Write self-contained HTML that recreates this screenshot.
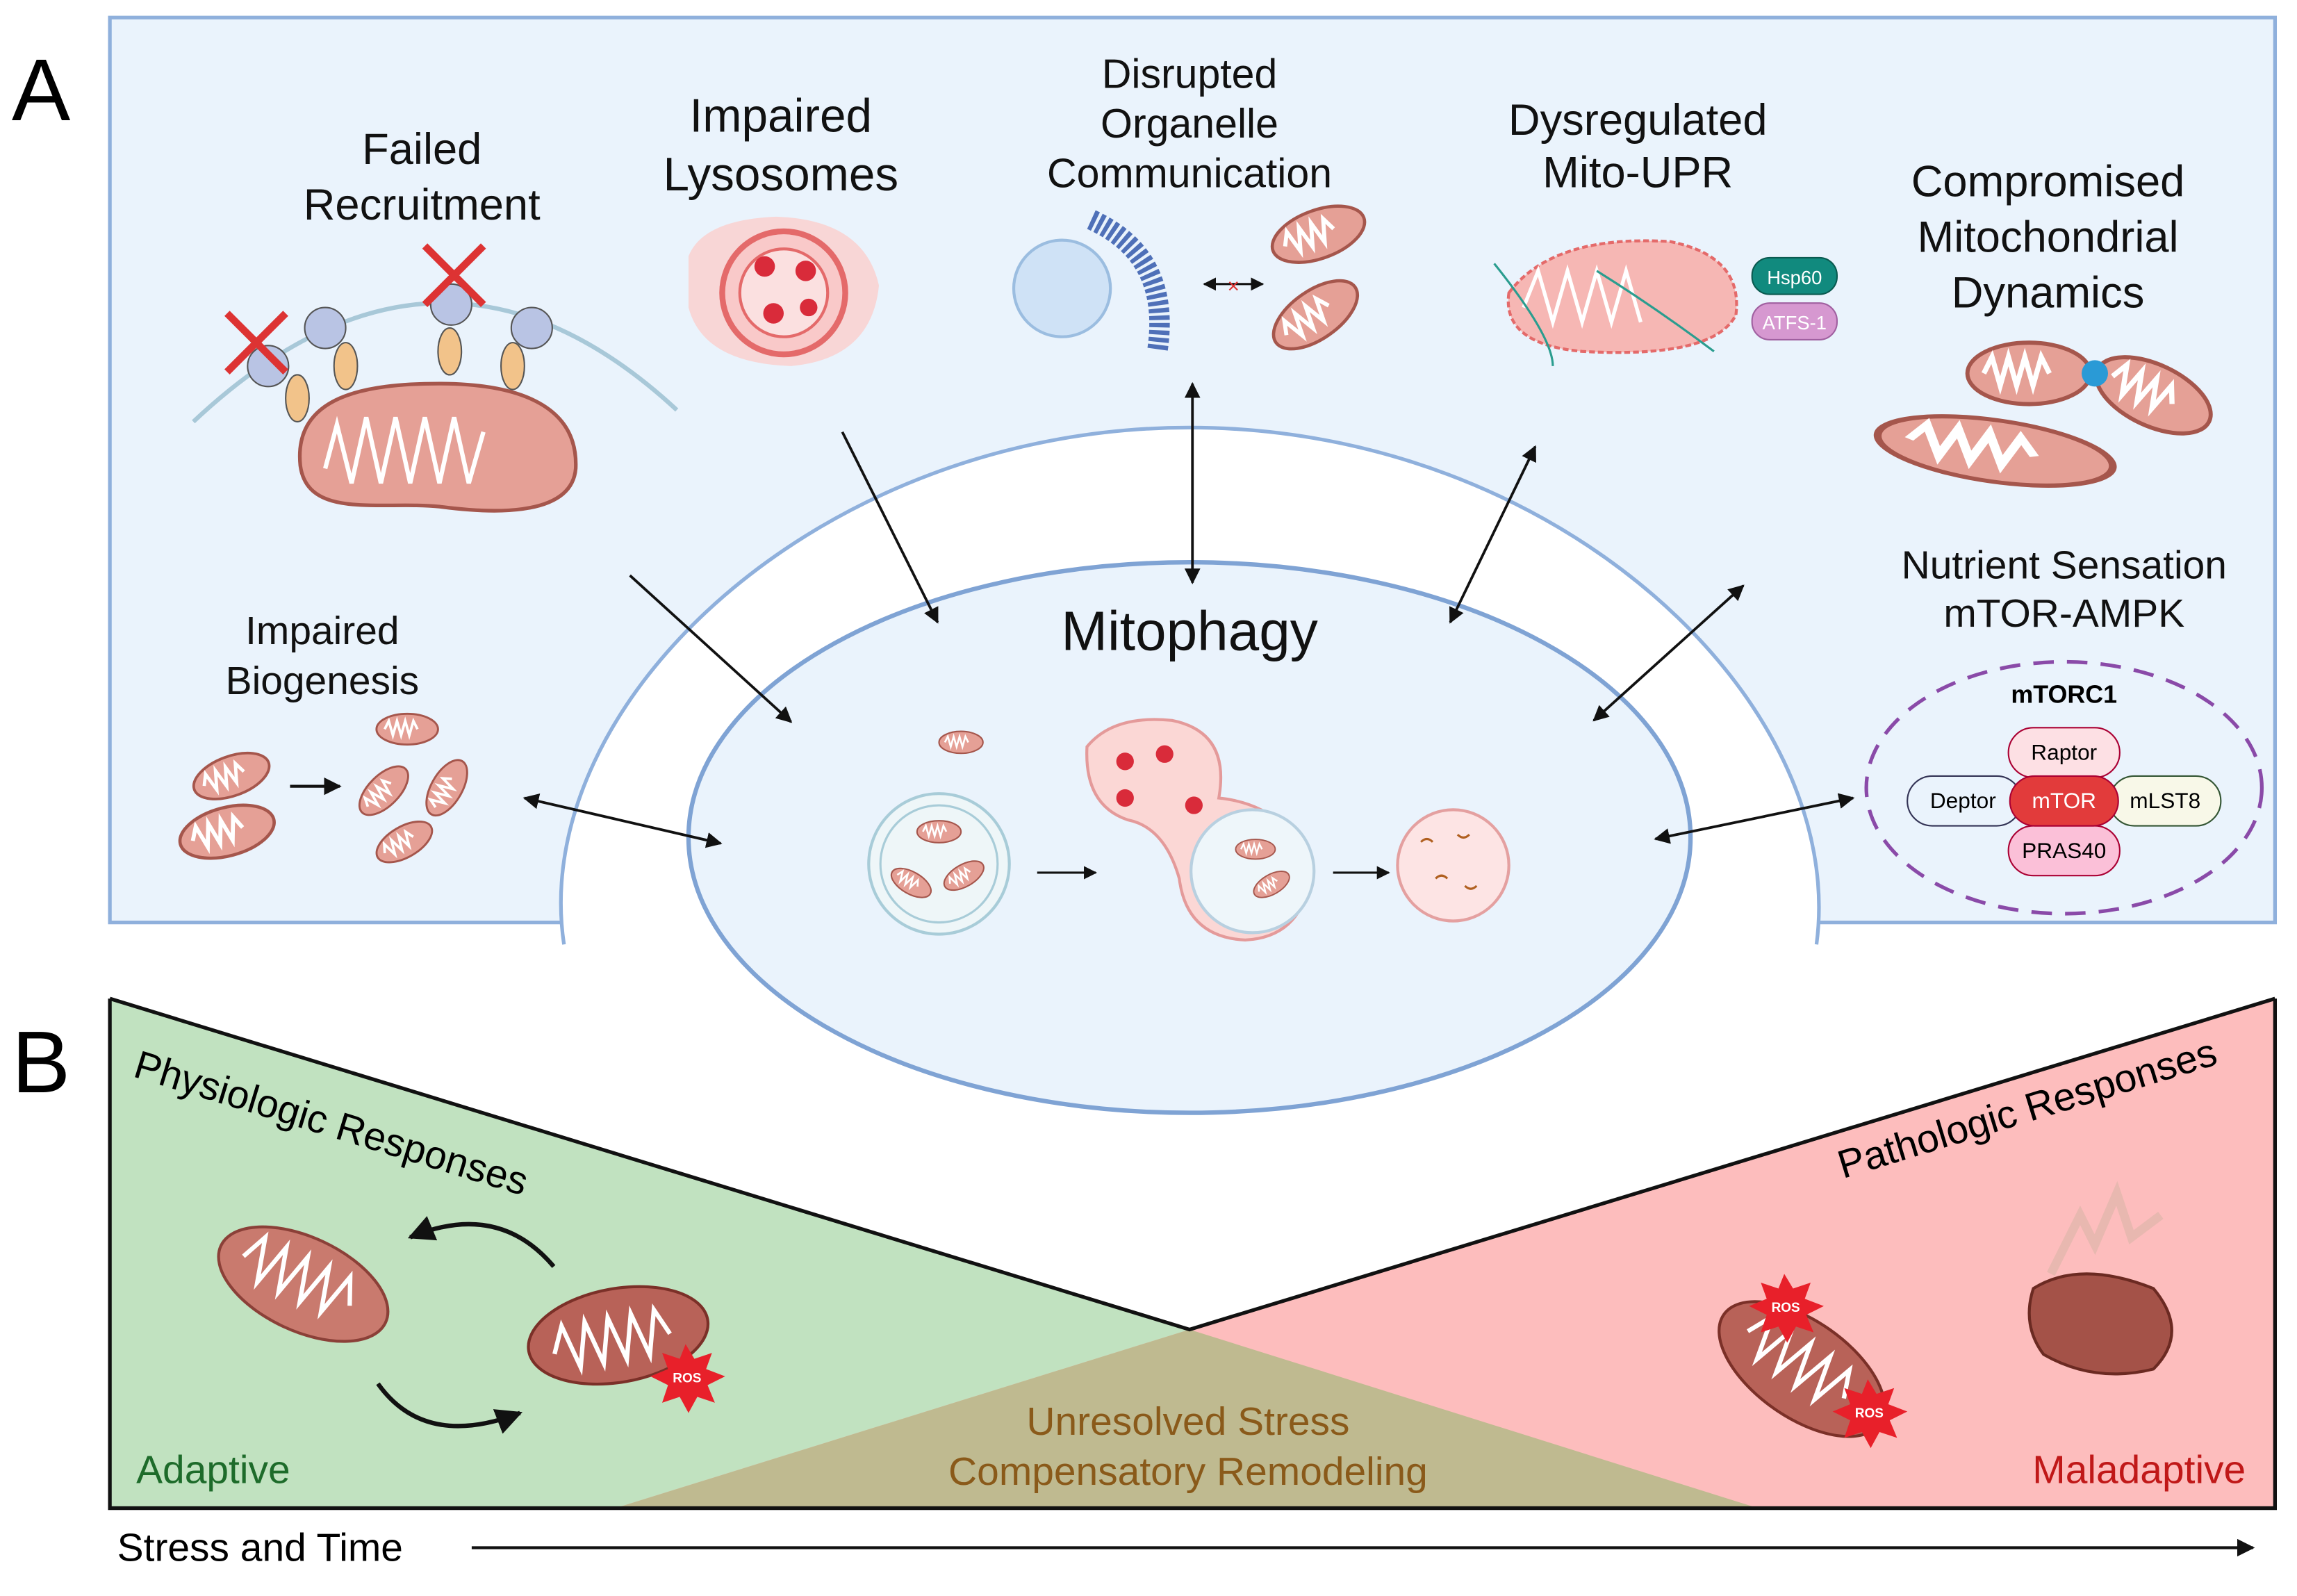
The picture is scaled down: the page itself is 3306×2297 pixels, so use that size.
<!DOCTYPE html>
<html><head><meta charset="utf-8"><style>html,body{margin:0;padding:0;background:#fff}svg{display:block}text{font-family:"Liberation Sans",sans-serif}</style></head><body>
<svg width="3306" height="2297" viewBox="0 0 1568 1090" preserveAspectRatio="none" xmlns="http://www.w3.org/2000/svg">
<defs>
<marker id="ah" viewBox="0 0 10 10" refX="9" refY="5" markerWidth="6" markerHeight="6" orient="auto-start-reverse"><path d="M0,0L10,5L0,10z" fill="#111"/></marker>
<g id="mito"><ellipse cx="0" cy="0" rx="30" ry="15" fill="#e5a096" stroke="#a5564c" stroke-width="2"/><path d="M-22,0 l4,-8 l4,14 l4,-14 l4,14 l4,-14 l4,14 l4,-14 l4,8" fill="none" stroke="#fff" stroke-width="2.5"/></g>
</defs>
<rect x="75" y="12" width="1478" height="618" fill="#eaf3fc" stroke="#8fb0dc" stroke-width="2.5"/>
<path d="M385,645 C360,480 560,292 812,292 C1064,292 1262,480 1240,645 Z" fill="#fff"/>
<path d="M385,645 C360,480 560,292 812,292 C1064,292 1262,480 1240,645" fill="none" stroke="#8fb0dc" stroke-width="2.5"/>
<polygon points="75,682 812,908 1200,1030 75,1030" fill="#c1e2c0"/>
<polygon points="1553,682 812,908 420,1030 1553,1030" fill="#fdbdbd"/>
<polygon points="812,908 1200,1030 420,1030" fill="#bfba90"/>
<polyline points="75,682 812,908 1553,682" fill="none" stroke="#111" stroke-width="2.5"/>
<polyline points="75,682 75,1030 1553,1030 1553,682" fill="none" stroke="#111" stroke-width="2.5"/>
<ellipse cx="812" cy="572" rx="342" ry="188" fill="#eaf3fc" stroke="#7fa3d4" stroke-width="3"/>
<text x="8" y="82" font-size="60">A</text>
<text x="8" y="746" font-size="60">B</text>
<g font-size="30" text-anchor="middle" fill="#111">
<text x="288" y="112">Failed</text><text x="288" y="150">Recruitment</text>
<text x="533" y="90" font-size="32">Impaired</text><text x="533" y="130" font-size="32">Lysosomes</text>
<text x="812" y="60" font-size="28">Disrupted</text><text x="812" y="94" font-size="28">Organelle</text><text x="812" y="128" font-size="28">Communication</text>
<text x="1118" y="92">Dysregulated</text><text x="1118" y="128">Mito-UPR</text>
<text x="1398" y="134">Compromised</text><text x="1398" y="172">Mitochondrial</text><text x="1398" y="210">Dynamics</text>
<text x="1409" y="395" font-size="27">Nutrient Sensation</text><text x="1409" y="428" font-size="27">mTOR-AMPK</text>
<text x="220" y="440" font-size="27">Impaired</text><text x="220" y="474" font-size="27">Biogenesis</text>
<text x="812" y="444" font-size="38">Mitophagy</text>
</g>
<path d="M132,288 Q300,130 462,280" fill="none" stroke="#a8c8d8" stroke-width="3"/>
<path d="M205,318 C200,270 250,262 300,262 C350,262 395,275 393,320 C390,355 330,350 300,346 C260,342 210,355 205,318Z" fill="#e5a096" stroke="#a5564c" stroke-width="2.5"/>
<path d="M222,320 l8,-30 l10,40 l10,-45 l10,45 l10,-45 l10,45 l10,-45 l10,45 l10,-45 l10,45 l10,-35" fill="none" stroke="#fff" stroke-width="3"/>
<g fill="#b9c4e4" stroke="#555" stroke-width="1"><circle cx="183" cy="250" r="14"/><circle cx="222" cy="224" r="14"/><circle cx="308" cy="208" r="14"/><circle cx="363" cy="224" r="14"/></g>
<g fill="#f2c38a" stroke="#555" stroke-width="1"><ellipse cx="203" cy="272" rx="8" ry="16"/><ellipse cx="236" cy="250" rx="8" ry="16"/><ellipse cx="307" cy="240" rx="8" ry="16"/><ellipse cx="350" cy="250" rx="8" ry="16"/></g>
<g stroke="#d33" stroke-width="5"><line x1="155" y1="214" x2="195" y2="254"/><line x1="195" y1="214" x2="155" y2="254"/><line x1="290" y1="168" x2="330" y2="208"/><line x1="330" y1="168" x2="290" y2="208"/></g>
<path d="M470,175 Q480,150 530,148 Q590,150 600,195 Q595,245 540,250 Q480,248 470,210Z" fill="#f8d6d6"/>
<circle cx="535" cy="200" r="42" fill="#f9c9c9" stroke="#e46a6a" stroke-width="4"/>
<circle cx="535" cy="200" r="30" fill="#fbe0e0" stroke="#e46a6a" stroke-width="2"/>
<g fill="#d92b3a"><circle cx="522" cy="182" r="7"/><circle cx="550" cy="185" r="7"/><circle cx="528" cy="214" r="7"/><circle cx="552" cy="210" r="6"/></g>
<circle cx="725" cy="197" r="33" fill="#cfe2f6" stroke="#9bbde0" stroke-width="2"/>
<path d="M745,150 Q800,175 790,240" fill="none" stroke="#4f70b8" stroke-width="14" stroke-dasharray="3 2"/>
<use href="#mito" transform="translate(900,160) rotate(-20) scale(1.1)"/>
<use href="#mito" transform="translate(898,215) rotate(-35) scale(1.1)"/>
<line x1="822" y1="194" x2="862" y2="194" stroke="#111" stroke-width="1.5" marker-start="url(#ah)" marker-end="url(#ah)"/>
<text x="842" y="200" fill="#d33" font-size="14" text-anchor="middle">×</text>
<path d="M1030,200 Q1060,160 1140,165 Q1190,175 1185,215 Q1170,245 1080,240 Q1025,235 1030,200Z" fill="#f6b7b4" stroke="#e46a6a" stroke-width="2" stroke-dasharray="4 2"/>
<path d="M1040,210 l10,-25 l10,35 l10,-35 l10,35 l10,-35 l10,35 l10,-35 l10,35" fill="none" stroke="#fff" stroke-width="2.5"/>
<path d="M1020,180 Q1060,230 1060,250 M1090,185 Q1130,210 1170,240" stroke="#2a9d8f" stroke-width="1.5" fill="none"/>
<rect x="1196" y="176" width="58" height="25" rx="12" fill="#118a7e" stroke="#0a5a50"/><text x="1225" y="194" font-size="13" fill="#fff" text-anchor="middle">Hsp60</text>
<rect x="1196" y="207" width="58" height="25" rx="12" fill="#d698d0" stroke="#a060a0"/><text x="1225" y="225" font-size="13" fill="#fff" text-anchor="middle">ATFS-1</text>
<use href="#mito" transform="translate(1385,255) scale(1.4)"/>
<use href="#mito" transform="translate(1470,270) rotate(25) scale(1.4)"/>
<use href="#mito" transform="translate(1362,308) rotate(8) scale(2.7,1.4)"/>
<circle cx="1430" cy="255" r="9" fill="#2a9ad6"/>
<use href="#mito" transform="translate(158,530) rotate(-20) scale(0.9)"/>
<use href="#mito" transform="translate(155,568) rotate(-15) scale(1.1)"/>
<use href="#mito" transform="translate(278,498) scale(0.7)"/>
<use href="#mito" transform="translate(262,540) rotate(-45) scale(0.7)"/>
<use href="#mito" transform="translate(305,538) rotate(-60) scale(0.7)"/>
<use href="#mito" transform="translate(276,575) rotate(-30) scale(0.7)"/>
<line x1="198" y1="537" x2="232" y2="537" stroke="#111" stroke-width="2" marker-end="url(#ah)"/>
<ellipse cx="1409" cy="538" rx="135" ry="86" fill="none" stroke="#8a4aa8" stroke-width="2.5" stroke-dasharray="14 9"/>
<text x="1409" y="480" font-size="17" font-weight="bold" text-anchor="middle">mTORC1</text>
<rect x="1302" y="530" width="78" height="34" rx="17" fill="#eaf3fc" stroke="#335"/><text x="1340" y="552" font-size="15" text-anchor="middle">Deptor</text>
<rect x="1440" y="530" width="76" height="34" rx="17" fill="#f8f8e8" stroke="#353"/><text x="1478" y="552" font-size="15" text-anchor="middle">mLST8</text>
<rect x="1371" y="497" width="76" height="34" rx="17" fill="#fde0e4" stroke="#a03"/><text x="1409" y="519" font-size="15" text-anchor="middle">Raptor</text>
<rect x="1371" y="564" width="76" height="34" rx="17" fill="#fbc0d8" stroke="#a03"/><text x="1409" y="586" font-size="15" text-anchor="middle">PRAS40</text>
<rect x="1372" y="530" width="74" height="34" rx="17" fill="#e23b3b" stroke="#a03"/><text x="1409" y="552" font-size="15" fill="#fff" text-anchor="middle">mTOR</text>
<use href="#mito" transform="translate(656,507) scale(0.5)"/>
<circle cx="641" cy="590" r="48" fill="#eef6f8" stroke="#a8ccd8" stroke-width="2"/><circle cx="641" cy="590" r="40" fill="none" stroke="#a8ccd8" stroke-width="1.5"/>
<use href="#mito" transform="translate(641,568) scale(0.5)"/><use href="#mito" transform="translate(622,603) rotate(30) scale(0.5)"/><use href="#mito" transform="translate(658,598) rotate(-30) scale(0.5)"/>
<line x1="708" y1="596" x2="748" y2="596" stroke="#111" stroke-width="1.5" marker-end="url(#ah)"/>
<path d="M742,510 Q760,488 800,492 Q840,500 832,545 Q880,550 895,595 Q890,640 850,642 Q810,640 805,600 Q795,565 770,560 Q740,550 742,510Z" fill="#fbd7d5" stroke="#e49a9a" stroke-width="2"/>
<circle cx="855" cy="595" r="42" fill="#eef6fa" stroke="#b8d0e0" stroke-width="2"/>
<g fill="#d92b3a"><circle cx="768" cy="520" r="6"/><circle cx="795" cy="515" r="6"/><circle cx="768" cy="545" r="6"/><circle cx="815" cy="550" r="6"/></g>
<use href="#mito" transform="translate(857,580) scale(0.45)"/><use href="#mito" transform="translate(868,604) rotate(-30) scale(0.45)"/>
<line x1="910" y1="596" x2="948" y2="596" stroke="#111" stroke-width="1.5" marker-end="url(#ah)"/>
<circle cx="992" cy="591" r="38" fill="#fde4e4" stroke="#e4a0a0" stroke-width="2"/>
<g stroke="#b06020" stroke-width="1.5" fill="none"><path d="M970,575 q4,-4 8,0"/><path d="M995,570 q4,4 8,0"/><path d="M980,600 q4,-4 8,0"/><path d="M1000,605 q4,4 8,0"/></g>
<g stroke="#111" stroke-width="1.8" fill="none">
<line x1="430" y1="393" x2="540" y2="493" marker-end="url(#ah)"/>
<line x1="575" y1="295" x2="640" y2="425" marker-end="url(#ah)"/>
<line x1="814" y1="262" x2="814" y2="398" marker-start="url(#ah)" marker-end="url(#ah)"/>
<line x1="1048" y1="305" x2="990" y2="425" marker-start="url(#ah)" marker-end="url(#ah)"/>
<line x1="1190" y1="400" x2="1088" y2="492" marker-start="url(#ah)" marker-end="url(#ah)"/>
<line x1="358" y1="545" x2="492" y2="576" marker-start="url(#ah)" marker-end="url(#ah)"/>
<line x1="1130" y1="573" x2="1265" y2="545" marker-start="url(#ah)" marker-end="url(#ah)"/>
<path d="M378,865 Q340,820 280,845" marker-end="url(#ah)" stroke-width="3"/>
<path d="M258,945 Q290,990 355,965" marker-end="url(#ah)" stroke-width="3"/>
<line x1="322" y1="1057" x2="1538" y2="1057" marker-end="url(#ah)" stroke-width="2"/>
</g>
<g transform="translate(207,877) rotate(25)"><ellipse rx="62" ry="32" fill="#c97a6e" stroke="#8b4038" stroke-width="2"/><path d="M-45,0 l8,-18 l8,30 l8,-30 l8,30 l8,-30 l8,30 l8,-30 l8,30 l8,-30 l8,18" fill="none" stroke="#fff" stroke-width="3"/></g>
<g transform="translate(422,912) rotate(-10)"><ellipse rx="62" ry="32" fill="#b86258" stroke="#7b3028" stroke-width="2"/><path d="M-45,5 l8,-18 l8,30 l8,-30 l8,30 l8,-30 l8,30 l8,-30 l8,30 l8,-30 l8,18" fill="none" stroke="#fff" stroke-width="3"/></g>
<g transform="translate(1230,935) rotate(35)"><ellipse rx="65" ry="33" fill="#b86258" stroke="#7b3028" stroke-width="2"/><path d="M-45,0 l8,-18 l8,30 l8,-30 l8,30 l8,-30 l8,30 l8,-30 l8,30 l8,-30 l8,18" fill="none" stroke="#fff" stroke-width="3"/></g>
<path d="M1388,880 Q1420,860 1470,880 Q1495,910 1470,935 Q1430,945 1395,925 Q1380,905 1388,880Z" fill="#a45248" stroke="#6b2a22" stroke-width="2"/>
<path d="M1400,870 l20,-40 l10,20 l15,-35 l10,30 l20,-15" fill="none" stroke="#e8b8b0" stroke-width="6"/>
<g fill="#e8202a">
<polygon points="468,918 474,928 486,924 482,935 495,940 483,946 488,958 476,954 470,965 464,954 452,958 456,946 444,940 456,935 452,924 464,928"/>
<polygon points="1218,870 1224,880 1236,876 1232,887 1245,892 1233,898 1238,910 1226,906 1220,917 1214,906 1202,910 1206,898 1194,892 1206,887 1202,876 1214,880"/>
<polygon points="1275,942 1281,952 1293,948 1289,959 1302,964 1290,970 1295,982 1283,978 1277,989 1271,978 1259,982 1263,970 1251,964 1263,959 1259,948 1271,952"/>
</g>
<g font-size="9" fill="#fff" font-weight="bold" text-anchor="middle"><text x="469" y="944">ROS</text><text x="1219" y="896">ROS</text><text x="1276" y="968">ROS</text></g>
<text x="90" y="735" font-size="27" transform="rotate(17 90 735)">Physiologic Responses</text>
<text x="1258" y="805" font-size="27" transform="rotate(-17 1258 805)">Pathologic Responses</text>
<text x="93" y="1013" font-size="27" fill="#1d6b2a">Adaptive</text>
<text x="1533" y="1013" font-size="27" fill="#c01818" text-anchor="end">Maladaptive</text>
<text x="811" y="980" font-size="27" fill="#8a5a1a" text-anchor="middle">Unresolved Stress</text>
<text x="811" y="1014" font-size="27" fill="#8a5a1a" text-anchor="middle">Compensatory Remodeling</text>
<text x="80" y="1066" font-size="27">Stress and Time</text>
</svg>
</body></html>
